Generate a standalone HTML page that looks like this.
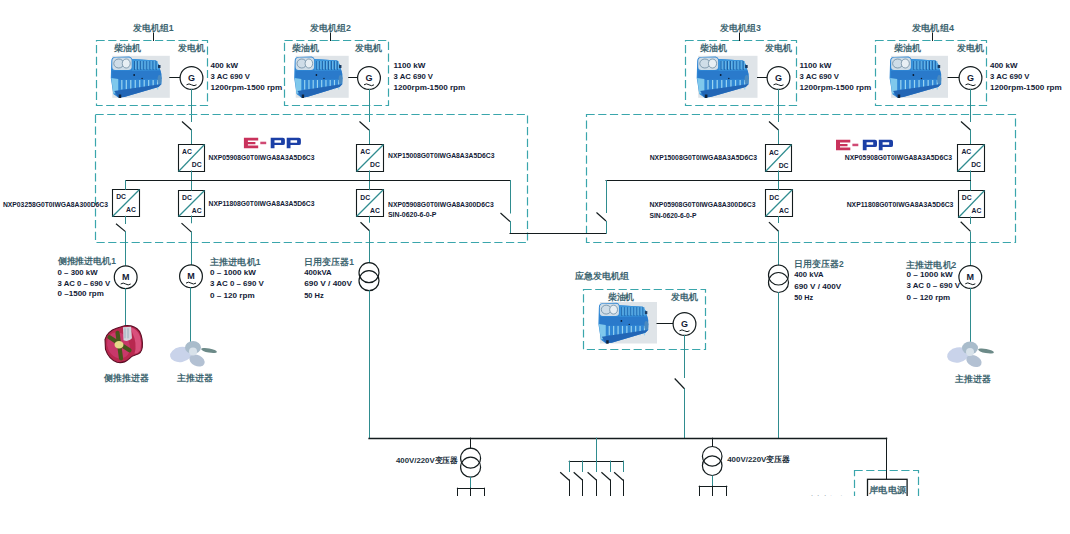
<!DOCTYPE html><html><head><meta charset="utf-8"><style>html,body{margin:0;padding:0;background:#fff;width:1070px;height:534px;overflow:hidden}svg{display:block}</style></head><body>
<svg width="1070" height="534" viewBox="0 0 1070 534">
<rect width="1070" height="534" fill="#fff"/>
<defs><clipPath id="cl"><rect x="0" y="0" width="1070" height="496"/></clipPath></defs>
<g clip-path="url(#cl)">
<rect x="96.5" y="40.5" width="111.0" height="65.0" fill="none" stroke="#3aa6ac" stroke-width="1.2" stroke-dasharray="8.2 3.5"/>
<line x1="153.5" y1="33" x2="153.5" y2="40.5" stroke="#141c1e" stroke-width="1.0" stroke-linecap="square"/>
<text x="133" y="27.8" font-size="8.8" fill="#3d6570" font-weight="600" text-anchor="start" font-family="Liberation Sans, sans-serif" dominant-baseline="central" textLength="40.5" lengthAdjust="spacingAndGlyphs">发电机组1</text>
<text x="114" y="48" font-size="9" fill="#3d6570" font-weight="600" text-anchor="start" font-family="Liberation Sans, sans-serif" dominant-baseline="central" textLength="27" lengthAdjust="spacingAndGlyphs">柴油机</text>
<text x="178" y="48" font-size="9" fill="#3d6570" font-weight="600" text-anchor="start" font-family="Liberation Sans, sans-serif" dominant-baseline="central" textLength="27" lengthAdjust="spacingAndGlyphs">发电机</text>
<rect x="112.3" y="55.8" width="57.500000000000014" height="42" fill="#dfe4e8"/>
<g transform="translate(112.29117647058823,56) scale(0.9941176470588236,1.0)">
<path d="M-1 5 Q-1 1 3 1 L17 0.5 Q19.5 1 20 3 L44 4.5 L47 9 L48 13 L49.5 18 L49.5 28 L46.5 31 L12 41 L6 41.5 L1 38 L-1.5 22 Z" fill="#2f86d4"/>
<path d="M20 3 L44 4.5 L47 9 L47.5 14.5 L20 15 Z" fill="#3a95dc"/>
<rect x="22.0" y="5" width="0.9" height="9" fill="#1d5c9e"/>
<rect x="23.0" y="5" width="1" height="8" fill="#6cb8e8"/>
<rect x="25.1" y="5" width="0.9" height="9" fill="#1d5c9e"/>
<rect x="26.1" y="5" width="1" height="8" fill="#6cb8e8"/>
<rect x="28.2" y="5" width="0.9" height="9" fill="#1d5c9e"/>
<rect x="29.2" y="5" width="1" height="8" fill="#6cb8e8"/>
<rect x="31.3" y="5" width="0.9" height="9" fill="#1d5c9e"/>
<rect x="32.3" y="5" width="1" height="8" fill="#6cb8e8"/>
<rect x="34.4" y="5" width="0.9" height="9" fill="#1d5c9e"/>
<rect x="35.4" y="5" width="1" height="8" fill="#6cb8e8"/>
<rect x="37.5" y="5" width="0.9" height="9" fill="#1d5c9e"/>
<rect x="38.5" y="5" width="1" height="8" fill="#6cb8e8"/>
<rect x="40.6" y="5" width="0.9" height="9" fill="#1d5c9e"/>
<rect x="41.6" y="5" width="1" height="8" fill="#6cb8e8"/>
<rect x="43.7" y="5" width="0.9" height="9" fill="#1d5c9e"/>
<rect x="44.7" y="5" width="1" height="8" fill="#6cb8e8"/>
<rect x="46" y="9" width="2.5" height="3" fill="#1a3a60"/>
<path d="M0 5 Q0 1.5 3.5 1.5 L16.5 1.5 Q19.5 1.5 19.5 5 L19.5 11 Q19.5 14 16 14 L3 14 Q0 14 0 11 Z" fill="#cfdde8"/>
<ellipse cx="6.5" cy="7.5" rx="5" ry="4.5" fill="none" stroke="#5f7f96" stroke-width="0.7"/>
<ellipse cx="14" cy="7.5" rx="4" ry="4.5" fill="#e8eff4" stroke="#5f7f96" stroke-width="0.7"/>
<path d="M0 15 L48.5 14.5 L49.5 23 L0 24 Z" fill="#2a7acb"/>
<circle cx="22" cy="19" r="0.9" fill="#0a1a30"/>
<circle cx="30" cy="22.5" r="0.7" fill="#0a1a30"/>
<rect x="9.0" y="24" width="1.2" height="9.5" fill="#9ad4f0"/>
<rect x="13.5" y="24" width="1.2" height="9.5" fill="#9ad4f0"/>
<rect x="18.0" y="24" width="1.2" height="9.5" fill="#9ad4f0"/>
<rect x="22.5" y="24" width="1.2" height="9.5" fill="#9ad4f0"/>
<rect x="27.0" y="24" width="1.2" height="9.5" fill="#9ad4f0"/>
<rect x="31.5" y="24" width="1.2" height="9.5" fill="#9ad4f0"/>
<rect x="36.0" y="24" width="1.2" height="9.5" fill="#9ad4f0"/>
<rect x="40.5" y="24" width="1.2" height="9.5" fill="#9ad4f0"/>
<rect x="45.0" y="24" width="1.2" height="9.5" fill="#9ad4f0"/>
<path d="M-1 22 L6 23 L6 36 L1 38 Z" fill="#7fc8ec"/>
<ellipse cx="47.5" cy="23.5" rx="2" ry="4.5" fill="#4a8ac0"/>
<path d="M2 35 L49.5 28 L46.5 31 L12 41 L6 41.5 Z" fill="#2266b6"/>
<rect x="6.5" y="38.5" width="2.5" height="3.5" fill="#10223a"/>
</g>
<line x1="169.8" y1="77.5" x2="180.1" y2="77.5" stroke="#141c1e" stroke-width="1.0" stroke-linecap="square"/>
<circle cx="191.5" cy="78" r="11.4" fill="#fff" stroke="#141c1e" stroke-width="1.2"/>
<text x="191.5" y="77.7" font-size="9" fill="#121a36" font-weight="bold" text-anchor="middle" font-family="Liberation Sans, sans-serif" dominant-baseline="central">G</text>
<path d="M186.5 84.8 q2.5 -1.8 5 0 t5 0" fill="none" stroke="#141c1e" stroke-width="1"/>
<text x="210.5" y="65" font-size="8" fill="#121a36" font-weight="bold" text-anchor="start" font-family="Liberation Sans, sans-serif" dominant-baseline="central" textLength="27.5" lengthAdjust="spacingAndGlyphs">400 kW</text>
<text x="210.5" y="76.3" font-size="8" fill="#121a36" font-weight="bold" text-anchor="start" font-family="Liberation Sans, sans-serif" dominant-baseline="central" textLength="39.5" lengthAdjust="spacingAndGlyphs">3 AC 690 V</text>
<text x="210.5" y="87.5" font-size="7.4" fill="#121a36" font-weight="bold" text-anchor="start" font-family="Liberation Sans, sans-serif" dominant-baseline="central" textLength="71.8" lengthAdjust="spacingAndGlyphs">1200rpm-1500 rpm</text>
<line x1="191.5" y1="89.5" x2="191.5" y2="121.5" stroke="#2f8c8f" stroke-width="1.0" stroke-linecap="square"/>
<line x1="182.0" y1="121.5" x2="191.5" y2="130.0" stroke="#141c1e" stroke-width="1.2"/>
<line x1="191.5" y1="130" x2="191.5" y2="144.5" stroke="#2f8c8f" stroke-width="1.0" stroke-linecap="square"/>
<rect x="284.5" y="40.5" width="104.0" height="65.0" fill="none" stroke="#3aa6ac" stroke-width="1.2" stroke-dasharray="8.2 3.5"/>
<line x1="330.5" y1="33" x2="330.5" y2="40.5" stroke="#141c1e" stroke-width="1.0" stroke-linecap="square"/>
<text x="310" y="27.8" font-size="8.8" fill="#3d6570" font-weight="600" text-anchor="start" font-family="Liberation Sans, sans-serif" dominant-baseline="central" textLength="41" lengthAdjust="spacingAndGlyphs">发电机组2</text>
<text x="291.6" y="48" font-size="9" fill="#3d6570" font-weight="600" text-anchor="start" font-family="Liberation Sans, sans-serif" dominant-baseline="central" textLength="27" lengthAdjust="spacingAndGlyphs">柴油机</text>
<text x="355" y="48" font-size="9" fill="#3d6570" font-weight="600" text-anchor="start" font-family="Liberation Sans, sans-serif" dominant-baseline="central" textLength="27" lengthAdjust="spacingAndGlyphs">发电机</text>
<rect x="295.7" y="55.8" width="53.0" height="42" fill="#dfe4e8"/>
<g transform="translate(295.61764705882354,56) scale(0.945098039215686,1.0)">
<path d="M-1 5 Q-1 1 3 1 L17 0.5 Q19.5 1 20 3 L44 4.5 L47 9 L48 13 L49.5 18 L49.5 28 L46.5 31 L12 41 L6 41.5 L1 38 L-1.5 22 Z" fill="#2f86d4"/>
<path d="M20 3 L44 4.5 L47 9 L47.5 14.5 L20 15 Z" fill="#3a95dc"/>
<rect x="22.0" y="5" width="0.9" height="9" fill="#1d5c9e"/>
<rect x="23.0" y="5" width="1" height="8" fill="#6cb8e8"/>
<rect x="25.1" y="5" width="0.9" height="9" fill="#1d5c9e"/>
<rect x="26.1" y="5" width="1" height="8" fill="#6cb8e8"/>
<rect x="28.2" y="5" width="0.9" height="9" fill="#1d5c9e"/>
<rect x="29.2" y="5" width="1" height="8" fill="#6cb8e8"/>
<rect x="31.3" y="5" width="0.9" height="9" fill="#1d5c9e"/>
<rect x="32.3" y="5" width="1" height="8" fill="#6cb8e8"/>
<rect x="34.4" y="5" width="0.9" height="9" fill="#1d5c9e"/>
<rect x="35.4" y="5" width="1" height="8" fill="#6cb8e8"/>
<rect x="37.5" y="5" width="0.9" height="9" fill="#1d5c9e"/>
<rect x="38.5" y="5" width="1" height="8" fill="#6cb8e8"/>
<rect x="40.6" y="5" width="0.9" height="9" fill="#1d5c9e"/>
<rect x="41.6" y="5" width="1" height="8" fill="#6cb8e8"/>
<rect x="43.7" y="5" width="0.9" height="9" fill="#1d5c9e"/>
<rect x="44.7" y="5" width="1" height="8" fill="#6cb8e8"/>
<rect x="46" y="9" width="2.5" height="3" fill="#1a3a60"/>
<path d="M0 5 Q0 1.5 3.5 1.5 L16.5 1.5 Q19.5 1.5 19.5 5 L19.5 11 Q19.5 14 16 14 L3 14 Q0 14 0 11 Z" fill="#cfdde8"/>
<ellipse cx="6.5" cy="7.5" rx="5" ry="4.5" fill="none" stroke="#5f7f96" stroke-width="0.7"/>
<ellipse cx="14" cy="7.5" rx="4" ry="4.5" fill="#e8eff4" stroke="#5f7f96" stroke-width="0.7"/>
<path d="M0 15 L48.5 14.5 L49.5 23 L0 24 Z" fill="#2a7acb"/>
<circle cx="22" cy="19" r="0.9" fill="#0a1a30"/>
<circle cx="30" cy="22.5" r="0.7" fill="#0a1a30"/>
<rect x="9.0" y="24" width="1.2" height="9.5" fill="#9ad4f0"/>
<rect x="13.5" y="24" width="1.2" height="9.5" fill="#9ad4f0"/>
<rect x="18.0" y="24" width="1.2" height="9.5" fill="#9ad4f0"/>
<rect x="22.5" y="24" width="1.2" height="9.5" fill="#9ad4f0"/>
<rect x="27.0" y="24" width="1.2" height="9.5" fill="#9ad4f0"/>
<rect x="31.5" y="24" width="1.2" height="9.5" fill="#9ad4f0"/>
<rect x="36.0" y="24" width="1.2" height="9.5" fill="#9ad4f0"/>
<rect x="40.5" y="24" width="1.2" height="9.5" fill="#9ad4f0"/>
<rect x="45.0" y="24" width="1.2" height="9.5" fill="#9ad4f0"/>
<path d="M-1 22 L6 23 L6 36 L1 38 Z" fill="#7fc8ec"/>
<ellipse cx="47.5" cy="23.5" rx="2" ry="4.5" fill="#4a8ac0"/>
<path d="M2 35 L49.5 28 L46.5 31 L12 41 L6 41.5 Z" fill="#2266b6"/>
<rect x="6.5" y="38.5" width="2.5" height="3.5" fill="#10223a"/>
</g>
<line x1="348.7" y1="77.5" x2="357.6" y2="77.5" stroke="#141c1e" stroke-width="1.0" stroke-linecap="square"/>
<circle cx="369" cy="78" r="11.4" fill="#fff" stroke="#141c1e" stroke-width="1.2"/>
<text x="369" y="77.7" font-size="9" fill="#121a36" font-weight="bold" text-anchor="middle" font-family="Liberation Sans, sans-serif" dominant-baseline="central">G</text>
<path d="M364 84.8 q2.5 -1.8 5 0 t5 0" fill="none" stroke="#141c1e" stroke-width="1"/>
<text x="393.5" y="65" font-size="8" fill="#121a36" font-weight="bold" text-anchor="start" font-family="Liberation Sans, sans-serif" dominant-baseline="central" textLength="32" lengthAdjust="spacingAndGlyphs">1100 kW</text>
<text x="393.5" y="76.3" font-size="8" fill="#121a36" font-weight="bold" text-anchor="start" font-family="Liberation Sans, sans-serif" dominant-baseline="central" textLength="39.5" lengthAdjust="spacingAndGlyphs">3 AC 690 V</text>
<text x="393.5" y="87.5" font-size="7.4" fill="#121a36" font-weight="bold" text-anchor="start" font-family="Liberation Sans, sans-serif" dominant-baseline="central" textLength="71.8" lengthAdjust="spacingAndGlyphs">1200rpm-1500 rpm</text>
<line x1="369.5" y1="89.5" x2="369.5" y2="121.5" stroke="#2f8c8f" stroke-width="1.0" stroke-linecap="square"/>
<line x1="359.5" y1="121.5" x2="369" y2="130.0" stroke="#141c1e" stroke-width="1.2"/>
<line x1="369.5" y1="130" x2="369.5" y2="144.5" stroke="#2f8c8f" stroke-width="1.0" stroke-linecap="square"/>
<rect x="685.5" y="40.5" width="111.0" height="65.0" fill="none" stroke="#3aa6ac" stroke-width="1.2" stroke-dasharray="8.2 3.5"/>
<line x1="739.5" y1="33" x2="739.5" y2="40.5" stroke="#141c1e" stroke-width="1.0" stroke-linecap="square"/>
<text x="720" y="27.8" font-size="8.8" fill="#3d6570" font-weight="600" text-anchor="start" font-family="Liberation Sans, sans-serif" dominant-baseline="central" textLength="41" lengthAdjust="spacingAndGlyphs">发电机组3</text>
<text x="700.4" y="48" font-size="9" fill="#3d6570" font-weight="600" text-anchor="start" font-family="Liberation Sans, sans-serif" dominant-baseline="central" textLength="27" lengthAdjust="spacingAndGlyphs">柴油机</text>
<text x="765.2" y="48" font-size="9" fill="#3d6570" font-weight="600" text-anchor="start" font-family="Liberation Sans, sans-serif" dominant-baseline="central" textLength="27" lengthAdjust="spacingAndGlyphs">发电机</text>
<rect x="698.2" y="55.8" width="59.299999999999955" height="42" fill="#dfe4e8"/>
<g transform="translate(698.2294117647059,56) scale(1.0196078431372548,1.0)">
<path d="M-1 5 Q-1 1 3 1 L17 0.5 Q19.5 1 20 3 L44 4.5 L47 9 L48 13 L49.5 18 L49.5 28 L46.5 31 L12 41 L6 41.5 L1 38 L-1.5 22 Z" fill="#2f86d4"/>
<path d="M20 3 L44 4.5 L47 9 L47.5 14.5 L20 15 Z" fill="#3a95dc"/>
<rect x="22.0" y="5" width="0.9" height="9" fill="#1d5c9e"/>
<rect x="23.0" y="5" width="1" height="8" fill="#6cb8e8"/>
<rect x="25.1" y="5" width="0.9" height="9" fill="#1d5c9e"/>
<rect x="26.1" y="5" width="1" height="8" fill="#6cb8e8"/>
<rect x="28.2" y="5" width="0.9" height="9" fill="#1d5c9e"/>
<rect x="29.2" y="5" width="1" height="8" fill="#6cb8e8"/>
<rect x="31.3" y="5" width="0.9" height="9" fill="#1d5c9e"/>
<rect x="32.3" y="5" width="1" height="8" fill="#6cb8e8"/>
<rect x="34.4" y="5" width="0.9" height="9" fill="#1d5c9e"/>
<rect x="35.4" y="5" width="1" height="8" fill="#6cb8e8"/>
<rect x="37.5" y="5" width="0.9" height="9" fill="#1d5c9e"/>
<rect x="38.5" y="5" width="1" height="8" fill="#6cb8e8"/>
<rect x="40.6" y="5" width="0.9" height="9" fill="#1d5c9e"/>
<rect x="41.6" y="5" width="1" height="8" fill="#6cb8e8"/>
<rect x="43.7" y="5" width="0.9" height="9" fill="#1d5c9e"/>
<rect x="44.7" y="5" width="1" height="8" fill="#6cb8e8"/>
<rect x="46" y="9" width="2.5" height="3" fill="#1a3a60"/>
<path d="M0 5 Q0 1.5 3.5 1.5 L16.5 1.5 Q19.5 1.5 19.5 5 L19.5 11 Q19.5 14 16 14 L3 14 Q0 14 0 11 Z" fill="#cfdde8"/>
<ellipse cx="6.5" cy="7.5" rx="5" ry="4.5" fill="none" stroke="#5f7f96" stroke-width="0.7"/>
<ellipse cx="14" cy="7.5" rx="4" ry="4.5" fill="#e8eff4" stroke="#5f7f96" stroke-width="0.7"/>
<path d="M0 15 L48.5 14.5 L49.5 23 L0 24 Z" fill="#2a7acb"/>
<circle cx="22" cy="19" r="0.9" fill="#0a1a30"/>
<circle cx="30" cy="22.5" r="0.7" fill="#0a1a30"/>
<rect x="9.0" y="24" width="1.2" height="9.5" fill="#9ad4f0"/>
<rect x="13.5" y="24" width="1.2" height="9.5" fill="#9ad4f0"/>
<rect x="18.0" y="24" width="1.2" height="9.5" fill="#9ad4f0"/>
<rect x="22.5" y="24" width="1.2" height="9.5" fill="#9ad4f0"/>
<rect x="27.0" y="24" width="1.2" height="9.5" fill="#9ad4f0"/>
<rect x="31.5" y="24" width="1.2" height="9.5" fill="#9ad4f0"/>
<rect x="36.0" y="24" width="1.2" height="9.5" fill="#9ad4f0"/>
<rect x="40.5" y="24" width="1.2" height="9.5" fill="#9ad4f0"/>
<rect x="45.0" y="24" width="1.2" height="9.5" fill="#9ad4f0"/>
<path d="M-1 22 L6 23 L6 36 L1 38 Z" fill="#7fc8ec"/>
<ellipse cx="47.5" cy="23.5" rx="2" ry="4.5" fill="#4a8ac0"/>
<path d="M2 35 L49.5 28 L46.5 31 L12 41 L6 41.5 Z" fill="#2266b6"/>
<rect x="6.5" y="38.5" width="2.5" height="3.5" fill="#10223a"/>
</g>
<line x1="757.5" y1="77.5" x2="767.1" y2="77.5" stroke="#141c1e" stroke-width="1.0" stroke-linecap="square"/>
<circle cx="778.5" cy="78" r="11.4" fill="#fff" stroke="#141c1e" stroke-width="1.2"/>
<text x="778.5" y="77.7" font-size="9" fill="#121a36" font-weight="bold" text-anchor="middle" font-family="Liberation Sans, sans-serif" dominant-baseline="central">G</text>
<path d="M773.5 84.8 q2.5 -1.8 5 0 t5 0" fill="none" stroke="#141c1e" stroke-width="1"/>
<text x="799.5" y="65" font-size="8" fill="#121a36" font-weight="bold" text-anchor="start" font-family="Liberation Sans, sans-serif" dominant-baseline="central" textLength="32" lengthAdjust="spacingAndGlyphs">1100 kW</text>
<text x="799.5" y="76.3" font-size="8" fill="#121a36" font-weight="bold" text-anchor="start" font-family="Liberation Sans, sans-serif" dominant-baseline="central" textLength="39.5" lengthAdjust="spacingAndGlyphs">3 AC 690 V</text>
<text x="799.5" y="87.5" font-size="7.4" fill="#121a36" font-weight="bold" text-anchor="start" font-family="Liberation Sans, sans-serif" dominant-baseline="central" textLength="71.8" lengthAdjust="spacingAndGlyphs">1200rpm-1500 rpm</text>
<line x1="778.5" y1="89.5" x2="778.5" y2="121.5" stroke="#2f8c8f" stroke-width="1.0" stroke-linecap="square"/>
<line x1="769.0" y1="121.5" x2="778.5" y2="130.0" stroke="#141c1e" stroke-width="1.2"/>
<line x1="778.5" y1="130" x2="778.5" y2="144.5" stroke="#2f8c8f" stroke-width="1.0" stroke-linecap="square"/>
<rect x="875.5" y="40.5" width="111.0" height="65.0" fill="none" stroke="#3aa6ac" stroke-width="1.2" stroke-dasharray="8.2 3.5"/>
<line x1="932.5" y1="33" x2="932.5" y2="40.5" stroke="#141c1e" stroke-width="1.0" stroke-linecap="square"/>
<text x="912" y="27.8" font-size="8.8" fill="#3d6570" font-weight="600" text-anchor="start" font-family="Liberation Sans, sans-serif" dominant-baseline="central" textLength="42" lengthAdjust="spacingAndGlyphs">发电机组4</text>
<text x="893.8" y="48" font-size="9" fill="#3d6570" font-weight="600" text-anchor="start" font-family="Liberation Sans, sans-serif" dominant-baseline="central" textLength="27" lengthAdjust="spacingAndGlyphs">柴油机</text>
<text x="957" y="48" font-size="9" fill="#3d6570" font-weight="600" text-anchor="start" font-family="Liberation Sans, sans-serif" dominant-baseline="central" textLength="27" lengthAdjust="spacingAndGlyphs">发电机</text>
<rect x="891.1" y="55.8" width="56.89999999999998" height="42" fill="#dfe4e8"/>
<g transform="translate(891.1176470588235,56) scale(1.0117647058823533,1.0)">
<path d="M-1 5 Q-1 1 3 1 L17 0.5 Q19.5 1 20 3 L44 4.5 L47 9 L48 13 L49.5 18 L49.5 28 L46.5 31 L12 41 L6 41.5 L1 38 L-1.5 22 Z" fill="#2f86d4"/>
<path d="M20 3 L44 4.5 L47 9 L47.5 14.5 L20 15 Z" fill="#3a95dc"/>
<rect x="22.0" y="5" width="0.9" height="9" fill="#1d5c9e"/>
<rect x="23.0" y="5" width="1" height="8" fill="#6cb8e8"/>
<rect x="25.1" y="5" width="0.9" height="9" fill="#1d5c9e"/>
<rect x="26.1" y="5" width="1" height="8" fill="#6cb8e8"/>
<rect x="28.2" y="5" width="0.9" height="9" fill="#1d5c9e"/>
<rect x="29.2" y="5" width="1" height="8" fill="#6cb8e8"/>
<rect x="31.3" y="5" width="0.9" height="9" fill="#1d5c9e"/>
<rect x="32.3" y="5" width="1" height="8" fill="#6cb8e8"/>
<rect x="34.4" y="5" width="0.9" height="9" fill="#1d5c9e"/>
<rect x="35.4" y="5" width="1" height="8" fill="#6cb8e8"/>
<rect x="37.5" y="5" width="0.9" height="9" fill="#1d5c9e"/>
<rect x="38.5" y="5" width="1" height="8" fill="#6cb8e8"/>
<rect x="40.6" y="5" width="0.9" height="9" fill="#1d5c9e"/>
<rect x="41.6" y="5" width="1" height="8" fill="#6cb8e8"/>
<rect x="43.7" y="5" width="0.9" height="9" fill="#1d5c9e"/>
<rect x="44.7" y="5" width="1" height="8" fill="#6cb8e8"/>
<rect x="46" y="9" width="2.5" height="3" fill="#1a3a60"/>
<path d="M0 5 Q0 1.5 3.5 1.5 L16.5 1.5 Q19.5 1.5 19.5 5 L19.5 11 Q19.5 14 16 14 L3 14 Q0 14 0 11 Z" fill="#cfdde8"/>
<ellipse cx="6.5" cy="7.5" rx="5" ry="4.5" fill="none" stroke="#5f7f96" stroke-width="0.7"/>
<ellipse cx="14" cy="7.5" rx="4" ry="4.5" fill="#e8eff4" stroke="#5f7f96" stroke-width="0.7"/>
<path d="M0 15 L48.5 14.5 L49.5 23 L0 24 Z" fill="#2a7acb"/>
<circle cx="22" cy="19" r="0.9" fill="#0a1a30"/>
<circle cx="30" cy="22.5" r="0.7" fill="#0a1a30"/>
<rect x="9.0" y="24" width="1.2" height="9.5" fill="#9ad4f0"/>
<rect x="13.5" y="24" width="1.2" height="9.5" fill="#9ad4f0"/>
<rect x="18.0" y="24" width="1.2" height="9.5" fill="#9ad4f0"/>
<rect x="22.5" y="24" width="1.2" height="9.5" fill="#9ad4f0"/>
<rect x="27.0" y="24" width="1.2" height="9.5" fill="#9ad4f0"/>
<rect x="31.5" y="24" width="1.2" height="9.5" fill="#9ad4f0"/>
<rect x="36.0" y="24" width="1.2" height="9.5" fill="#9ad4f0"/>
<rect x="40.5" y="24" width="1.2" height="9.5" fill="#9ad4f0"/>
<rect x="45.0" y="24" width="1.2" height="9.5" fill="#9ad4f0"/>
<path d="M-1 22 L6 23 L6 36 L1 38 Z" fill="#7fc8ec"/>
<ellipse cx="47.5" cy="23.5" rx="2" ry="4.5" fill="#4a8ac0"/>
<path d="M2 35 L49.5 28 L46.5 31 L12 41 L6 41.5 Z" fill="#2266b6"/>
<rect x="6.5" y="38.5" width="2.5" height="3.5" fill="#10223a"/>
</g>
<line x1="948" y1="77.5" x2="959.1" y2="77.5" stroke="#141c1e" stroke-width="1.0" stroke-linecap="square"/>
<circle cx="970.5" cy="78" r="11.4" fill="#fff" stroke="#141c1e" stroke-width="1.2"/>
<text x="970.5" y="77.7" font-size="9" fill="#121a36" font-weight="bold" text-anchor="middle" font-family="Liberation Sans, sans-serif" dominant-baseline="central">G</text>
<path d="M965.5 84.8 q2.5 -1.8 5 0 t5 0" fill="none" stroke="#141c1e" stroke-width="1"/>
<text x="990" y="65" font-size="8" fill="#121a36" font-weight="bold" text-anchor="start" font-family="Liberation Sans, sans-serif" dominant-baseline="central" textLength="27.5" lengthAdjust="spacingAndGlyphs">400 kW</text>
<text x="990" y="76.3" font-size="8" fill="#121a36" font-weight="bold" text-anchor="start" font-family="Liberation Sans, sans-serif" dominant-baseline="central" textLength="39.5" lengthAdjust="spacingAndGlyphs">3 AC 690 V</text>
<text x="990" y="87.5" font-size="7.4" fill="#121a36" font-weight="bold" text-anchor="start" font-family="Liberation Sans, sans-serif" dominant-baseline="central" textLength="71.8" lengthAdjust="spacingAndGlyphs">1200rpm-1500 rpm</text>
<line x1="970.5" y1="89.5" x2="970.5" y2="121.5" stroke="#2f8c8f" stroke-width="1.0" stroke-linecap="square"/>
<line x1="961.0" y1="121.5" x2="970.5" y2="130.0" stroke="#141c1e" stroke-width="1.2"/>
<line x1="970.5" y1="130" x2="970.5" y2="144.5" stroke="#2f8c8f" stroke-width="1.0" stroke-linecap="square"/>
<rect x="95.5" y="114.5" width="432.0" height="128.0" fill="none" stroke="#3aa6ac" stroke-width="1.2" stroke-dasharray="8.2 3.5"/>
<rect x="586.5" y="114.5" width="429.0" height="128.0" fill="none" stroke="#3aa6ac" stroke-width="1.2" stroke-dasharray="8.2 3.5"/>
<g transform="translate(243.9,137.8) scale(1.0)">
<path d="M0 0 H14.3 V2.7 H4 V4.1 H11.5 V6.4 H4 V7.8 H14.3 V10.5 H0 Z" fill="#c9325c"/>
<rect x="16.4" y="3.9" width="5.9" height="2.5" fill="#d04a74"/>
<path d="M26.8 0 H39 Q41 0 41 2 V5.4 Q41 7.3 39 7.3 H30.6 V10.5 H26.8 Z M30.6 2.5 V4.9 H37.2 V2.5 Z" fill="#1b3fa6" fill-rule="evenodd"/>
<path d="M42.8 0 H55 Q57 0 57 2 V5.4 Q57 7.3 55 7.3 H46.6 V10.5 H42.8 Z M46.6 2.5 V4.9 H53.2 V2.5 Z" fill="#1b3fa6" fill-rule="evenodd"/>
</g>
<g transform="translate(836,139.8) scale(1.0)">
<path d="M0 0 H14.3 V2.7 H4 V4.1 H11.5 V6.4 H4 V7.8 H14.3 V10.5 H0 Z" fill="#c9325c"/>
<rect x="16.4" y="3.9" width="5.9" height="2.5" fill="#d04a74"/>
<path d="M26.8 0 H39 Q41 0 41 2 V5.4 Q41 7.3 39 7.3 H30.6 V10.5 H26.8 Z M30.6 2.5 V4.9 H37.2 V2.5 Z" fill="#1b3fa6" fill-rule="evenodd"/>
<path d="M42.8 0 H55 Q57 0 57 2 V5.4 Q57 7.3 55 7.3 H46.6 V10.5 H42.8 Z M46.6 2.5 V4.9 H53.2 V2.5 Z" fill="#1b3fa6" fill-rule="evenodd"/>
</g>
<path d="M178.5 144.5 H204.5 V171.5 H178.5 Z" fill="none" stroke="#141c1e" stroke-width="1.1"/>
<line x1="178.5" y1="171.5" x2="204.5" y2="144.5" stroke="#2f8c8f" stroke-width="1.2"/>
<text x="186.9" y="151.70000000000002" font-size="7.6" fill="#121a36" font-weight="bold" text-anchor="middle" font-family="Liberation Sans, sans-serif" dominant-baseline="central" textLength="9.8" lengthAdjust="spacingAndGlyphs">AC</text>
<text x="196.70000000000002" y="164.70000000000002" font-size="7.6" fill="#121a36" font-weight="bold" text-anchor="middle" font-family="Liberation Sans, sans-serif" dominant-baseline="central" textLength="9.8" lengthAdjust="spacingAndGlyphs">DC</text>
<path d="M356.5 144.5 H383.5 V171.5 H356.5 Z" fill="none" stroke="#141c1e" stroke-width="1.1"/>
<line x1="356.5" y1="171.5" x2="383.5" y2="144.5" stroke="#2f8c8f" stroke-width="1.2"/>
<text x="365.2" y="151.70000000000002" font-size="7.6" fill="#121a36" font-weight="bold" text-anchor="middle" font-family="Liberation Sans, sans-serif" dominant-baseline="central" textLength="9.8" lengthAdjust="spacingAndGlyphs">AC</text>
<text x="375.0" y="164.70000000000002" font-size="7.6" fill="#121a36" font-weight="bold" text-anchor="middle" font-family="Liberation Sans, sans-serif" dominant-baseline="central" textLength="9.8" lengthAdjust="spacingAndGlyphs">DC</text>
<path d="M765.5 144.5 H791.5 V171.5 H765.5 Z" fill="none" stroke="#141c1e" stroke-width="1.1"/>
<line x1="765.5" y1="171.5" x2="791.5" y2="144.5" stroke="#2f8c8f" stroke-width="1.2"/>
<text x="773.8" y="152.0" font-size="7.6" fill="#121a36" font-weight="bold" text-anchor="middle" font-family="Liberation Sans, sans-serif" dominant-baseline="central" textLength="9.8" lengthAdjust="spacingAndGlyphs">AC</text>
<text x="783.5999999999999" y="165.0" font-size="7.6" fill="#121a36" font-weight="bold" text-anchor="middle" font-family="Liberation Sans, sans-serif" dominant-baseline="central" textLength="9.8" lengthAdjust="spacingAndGlyphs">DC</text>
<path d="M957.5 144.5 H984.5 V171.5 H957.5 Z" fill="none" stroke="#141c1e" stroke-width="1.1"/>
<line x1="957.5" y1="171.5" x2="984.5" y2="144.5" stroke="#2f8c8f" stroke-width="1.2"/>
<text x="966.3" y="151.8" font-size="7.6" fill="#121a36" font-weight="bold" text-anchor="middle" font-family="Liberation Sans, sans-serif" dominant-baseline="central" textLength="9.8" lengthAdjust="spacingAndGlyphs">AC</text>
<text x="976.0999999999999" y="164.8" font-size="7.6" fill="#121a36" font-weight="bold" text-anchor="middle" font-family="Liberation Sans, sans-serif" dominant-baseline="central" textLength="9.8" lengthAdjust="spacingAndGlyphs">DC</text>
<path d="M112.5 189.5 H139.5 V216.5 H112.5 Z" fill="none" stroke="#141c1e" stroke-width="1.1"/>
<line x1="112.5" y1="216.5" x2="139.5" y2="189.5" stroke="#2f8c8f" stroke-width="1.2"/>
<text x="121.1" y="196.8" font-size="7.6" fill="#121a36" font-weight="bold" text-anchor="middle" font-family="Liberation Sans, sans-serif" dominant-baseline="central" textLength="9.8" lengthAdjust="spacingAndGlyphs">DC</text>
<text x="130.9" y="209.8" font-size="7.6" fill="#121a36" font-weight="bold" text-anchor="middle" font-family="Liberation Sans, sans-serif" dominant-baseline="central" textLength="9.8" lengthAdjust="spacingAndGlyphs">AC</text>
<path d="M178.5 190.5 H204.5 V216.5 H178.5 Z" fill="none" stroke="#141c1e" stroke-width="1.1"/>
<line x1="178.5" y1="216.5" x2="204.5" y2="190.5" stroke="#2f8c8f" stroke-width="1.2"/>
<text x="186.9" y="197.4" font-size="7.6" fill="#121a36" font-weight="bold" text-anchor="middle" font-family="Liberation Sans, sans-serif" dominant-baseline="central" textLength="9.8" lengthAdjust="spacingAndGlyphs">DC</text>
<text x="196.70000000000002" y="210.4" font-size="7.6" fill="#121a36" font-weight="bold" text-anchor="middle" font-family="Liberation Sans, sans-serif" dominant-baseline="central" textLength="9.8" lengthAdjust="spacingAndGlyphs">AC</text>
<path d="M356.5 189.5 H383.5 V216.5 H356.5 Z" fill="none" stroke="#141c1e" stroke-width="1.1"/>
<line x1="356.5" y1="216.5" x2="383.5" y2="189.5" stroke="#2f8c8f" stroke-width="1.2"/>
<text x="365.2" y="197.1" font-size="7.6" fill="#121a36" font-weight="bold" text-anchor="middle" font-family="Liberation Sans, sans-serif" dominant-baseline="central" textLength="9.8" lengthAdjust="spacingAndGlyphs">DC</text>
<text x="375.0" y="210.1" font-size="7.6" fill="#121a36" font-weight="bold" text-anchor="middle" font-family="Liberation Sans, sans-serif" dominant-baseline="central" textLength="9.8" lengthAdjust="spacingAndGlyphs">AC</text>
<path d="M765.5 189.5 H792.5 V216.5 H765.5 Z" fill="none" stroke="#141c1e" stroke-width="1.1"/>
<line x1="765.5" y1="216.5" x2="792.5" y2="189.5" stroke="#2f8c8f" stroke-width="1.2"/>
<text x="774.2" y="197.20000000000002" font-size="7.6" fill="#121a36" font-weight="bold" text-anchor="middle" font-family="Liberation Sans, sans-serif" dominant-baseline="central" textLength="9.8" lengthAdjust="spacingAndGlyphs">DC</text>
<text x="784.0" y="210.20000000000002" font-size="7.6" fill="#121a36" font-weight="bold" text-anchor="middle" font-family="Liberation Sans, sans-serif" dominant-baseline="central" textLength="9.8" lengthAdjust="spacingAndGlyphs">AC</text>
<path d="M958.5 190.5 H984.5 V217.5 H958.5 Z" fill="none" stroke="#141c1e" stroke-width="1.1"/>
<line x1="958.5" y1="217.5" x2="984.5" y2="190.5" stroke="#2f8c8f" stroke-width="1.2"/>
<text x="966.7" y="197.6" font-size="7.6" fill="#121a36" font-weight="bold" text-anchor="middle" font-family="Liberation Sans, sans-serif" dominant-baseline="central" textLength="9.8" lengthAdjust="spacingAndGlyphs">DC</text>
<text x="976.5" y="210.6" font-size="7.6" fill="#121a36" font-weight="bold" text-anchor="middle" font-family="Liberation Sans, sans-serif" dominant-baseline="central" textLength="9.8" lengthAdjust="spacingAndGlyphs">AC</text>
<line x1="191.5" y1="171" x2="191.5" y2="190" stroke="#2f8c8f" stroke-width="1.0" stroke-linecap="square"/>
<line x1="369.5" y1="171" x2="369.5" y2="189.7" stroke="#2f8c8f" stroke-width="1.0" stroke-linecap="square"/>
<line x1="778.5" y1="171" x2="778.5" y2="189.8" stroke="#2f8c8f" stroke-width="1.0" stroke-linecap="square"/>
<line x1="970.5" y1="171" x2="970.5" y2="190.2" stroke="#2f8c8f" stroke-width="1.0" stroke-linecap="square"/>
<line x1="125.5" y1="180.5" x2="510" y2="180.5" stroke="#141c1e" stroke-width="1.0" stroke-linecap="square"/>
<line x1="606" y1="180.5" x2="970.5" y2="180.5" stroke="#141c1e" stroke-width="1.0" stroke-linecap="square"/>
<line x1="125.5" y1="180.5" x2="125.5" y2="189.3" stroke="#2f8c8f" stroke-width="1.0" stroke-linecap="square"/>
<line x1="510.5" y1="180.5" x2="510.5" y2="213" stroke="#2f8c8f" stroke-width="1.0" stroke-linecap="square"/>
<line x1="500.5" y1="213" x2="510" y2="221.5" stroke="#141c1e" stroke-width="1.2"/>
<line x1="510.5" y1="221.5" x2="510.5" y2="233" stroke="#2f8c8f" stroke-width="1.0" stroke-linecap="square"/>
<line x1="510" y1="233.5" x2="606" y2="233.5" stroke="#141c1e" stroke-width="1.0" stroke-linecap="square"/>
<line x1="606.5" y1="180.5" x2="606.5" y2="212.5" stroke="#2f8c8f" stroke-width="1.0" stroke-linecap="square"/>
<line x1="596.5" y1="212.5" x2="606" y2="221.0" stroke="#141c1e" stroke-width="1.2"/>
<line x1="606.5" y1="221.5" x2="606.5" y2="233" stroke="#2f8c8f" stroke-width="1.0" stroke-linecap="square"/>
<text x="208.5" y="157.2" font-size="6.8" fill="#121a36" font-weight="bold" text-anchor="start" font-family="Liberation Sans, sans-serif" dominant-baseline="central" textLength="106" lengthAdjust="spacingAndGlyphs">NXP05908G0T0IWGA8A3A5D6C3</text>
<text x="388" y="155.4" font-size="6.8" fill="#121a36" font-weight="bold" text-anchor="start" font-family="Liberation Sans, sans-serif" dominant-baseline="central" textLength="106.5" lengthAdjust="spacingAndGlyphs">NXP15008G0T0IWGA8A3A5D6C3</text>
<text x="3" y="204.5" font-size="6.8" fill="#121a36" font-weight="bold" text-anchor="start" font-family="Liberation Sans, sans-serif" dominant-baseline="central" textLength="105" lengthAdjust="spacingAndGlyphs">NXP03258G0T0IWGA8A300D6C3</text>
<text x="208.5" y="203.5" font-size="6.8" fill="#121a36" font-weight="bold" text-anchor="start" font-family="Liberation Sans, sans-serif" dominant-baseline="central" textLength="106" lengthAdjust="spacingAndGlyphs">NXP11808G0T0IWGA8A3A5D6C3</text>
<text x="388" y="204.4" font-size="6.8" fill="#121a36" font-weight="bold" text-anchor="start" font-family="Liberation Sans, sans-serif" dominant-baseline="central" textLength="105.7" lengthAdjust="spacingAndGlyphs">NXP05908G0T0IWGA8A300D6C3</text>
<text x="388" y="214.2" font-size="6.8" fill="#121a36" font-weight="bold" text-anchor="start" font-family="Liberation Sans, sans-serif" dominant-baseline="central" textLength="48.5" lengthAdjust="spacingAndGlyphs">SIN-0620-6-0-P</text>
<text x="649.7" y="157" font-size="6.8" fill="#121a36" font-weight="bold" text-anchor="start" font-family="Liberation Sans, sans-serif" dominant-baseline="central" textLength="107.3" lengthAdjust="spacingAndGlyphs">NXP15008G0T0IWGA8A3A5D6C3</text>
<text x="649.4" y="204" font-size="6.8" fill="#121a36" font-weight="bold" text-anchor="start" font-family="Liberation Sans, sans-serif" dominant-baseline="central" textLength="106.2" lengthAdjust="spacingAndGlyphs">NXP05908G0T0IWGA8A300D6C3</text>
<text x="649.4" y="215.5" font-size="6.8" fill="#121a36" font-weight="bold" text-anchor="start" font-family="Liberation Sans, sans-serif" dominant-baseline="central" textLength="47.2" lengthAdjust="spacingAndGlyphs">SIN-0620-6-0-P</text>
<text x="844.8" y="157.5" font-size="6.8" fill="#121a36" font-weight="bold" text-anchor="start" font-family="Liberation Sans, sans-serif" dominant-baseline="central" textLength="107.2" lengthAdjust="spacingAndGlyphs">NXP05908G0T0IWGA8A3A5D6C3</text>
<text x="846.7" y="204.5" font-size="6.8" fill="#121a36" font-weight="bold" text-anchor="start" font-family="Liberation Sans, sans-serif" dominant-baseline="central" textLength="106.7" lengthAdjust="spacingAndGlyphs">NXP11808G0T0IWGA8A3A5D6C3</text>
<line x1="125.5" y1="216.3" x2="125.5" y2="223.5" stroke="#2f8c8f" stroke-width="1.0" stroke-linecap="square"/>
<line x1="116.0" y1="223.8" x2="125.5" y2="231.60000000000002" stroke="#141c1e" stroke-width="1.2"/>
<line x1="125.5" y1="231.6" x2="125.5" y2="265.7" stroke="#2f8c8f" stroke-width="1.0" stroke-linecap="square"/>
<circle cx="125.7" cy="277.2" r="11.4" fill="#fff" stroke="#141c1e" stroke-width="1.2"/>
<text x="125.7" y="276.9" font-size="9" fill="#121a36" font-weight="bold" text-anchor="middle" font-family="Liberation Sans, sans-serif" dominant-baseline="central">M</text>
<path d="M120.7 284.0 q2.5 -1.8 5 0 t5 0" fill="none" stroke="#141c1e" stroke-width="1"/>
<line x1="125.5" y1="288.7" x2="125.5" y2="327" stroke="#2f8c8f" stroke-width="1.0" stroke-linecap="square"/>
<g transform="translate(104.5,325.3)">
<path d="M0.5 14 Q3 6 12 3 L20 0.5 Q30 -0.5 35 6 Q38.5 13 37.8 22 Q37 28.5 31.5 29.5 Q27 30.5 24 34 Q19 38.5 12.5 37 Q4 33.5 1 24 Z" fill="#b8284f" stroke="#5c0c24" stroke-width="1.1"/>
<path d="M26 2 Q33 4 35.5 11 Q37.5 18 36 25 Q34 28 30 28.5 Q33 18 28 8 Z" fill="#d8507c"/>
<ellipse cx="14" cy="20" rx="11" ry="13.5" transform="rotate(-25 14 20)" fill="#c8386a"/>
<path d="M5 12 L25 25 M13 7.5 L16.5 33" stroke="#46561c" stroke-width="4.2" stroke-linecap="round"/>
<ellipse cx="14.5" cy="19.5" rx="4.5" ry="3.8" fill="#e6d98a"/>
<path d="M18.5 2 L26.5 1.5 L27.5 13 Q24 17 19 15 Z" fill="#d6e4ea" opacity="0.9"/>
<path d="M20.5 3 V13 M23.5 3 V13" stroke="#8aa6b2" stroke-width="0.8"/>
</g>
<text x="57.6" y="261" font-size="8.5" fill="#3d6570" font-weight="600" text-anchor="start" font-family="Liberation Sans, sans-serif" dominant-baseline="central" textLength="58.4" lengthAdjust="spacingAndGlyphs">侧推推进电机1</text>
<text x="57.6" y="272.2" font-size="8" fill="#121a36" font-weight="bold" text-anchor="start" font-family="Liberation Sans, sans-serif" dominant-baseline="central" textLength="40" lengthAdjust="spacingAndGlyphs">0 – 300 kW</text>
<text x="57.6" y="283" font-size="8" fill="#121a36" font-weight="bold" text-anchor="start" font-family="Liberation Sans, sans-serif" dominant-baseline="central" textLength="52.6" lengthAdjust="spacingAndGlyphs">3 AC 0 – 690 V</text>
<text x="57.6" y="293.8" font-size="8" fill="#121a36" font-weight="bold" text-anchor="start" font-family="Liberation Sans, sans-serif" dominant-baseline="central" textLength="46.3" lengthAdjust="spacingAndGlyphs">0 –1500 rpm</text>
<text x="104" y="378.2" font-size="8.5" fill="#3d6570" font-weight="600" text-anchor="start" font-family="Liberation Sans, sans-serif" dominant-baseline="central" textLength="44.5" lengthAdjust="spacingAndGlyphs">侧推推进器</text>
<line x1="191.5" y1="216" x2="191.5" y2="222.8" stroke="#2f8c8f" stroke-width="1.0" stroke-linecap="square"/>
<line x1="181.5" y1="223.1" x2="191.5" y2="232.1" stroke="#141c1e" stroke-width="1.2"/>
<line x1="191.5" y1="232" x2="191.5" y2="265" stroke="#2f8c8f" stroke-width="1.0" stroke-linecap="square"/>
<circle cx="191" cy="276.3" r="11.4" fill="#fff" stroke="#141c1e" stroke-width="1.2"/>
<text x="191" y="276.0" font-size="9" fill="#121a36" font-weight="bold" text-anchor="middle" font-family="Liberation Sans, sans-serif" dominant-baseline="central">M</text>
<path d="M186 283.1 q2.5 -1.8 5 0 t5 0" fill="none" stroke="#141c1e" stroke-width="1"/>
<line x1="190.5" y1="287.7" x2="190.5" y2="342" stroke="#2f8c8f" stroke-width="1.0" stroke-linecap="square"/>
<g transform="translate(194,350.5)">
<ellipse cx="-13" cy="4" rx="11" ry="7.5" fill="#c9d3ea" transform="rotate(-10 -13 4)"/>
<ellipse cx="-1" cy="-3" rx="8" ry="6.5" fill="#a9bccb"/>
<ellipse cx="3" cy="10" rx="8" ry="5.5" fill="#b3c1d3" transform="rotate(25 3 10)"/>
<ellipse cx="15" cy="0" rx="8" ry="2" fill="#6c8a88" transform="rotate(10 15 0)"/>
<ellipse cx="-1" cy="1" rx="4" ry="4" fill="#d8e2ea"/>
</g>
<text x="210" y="261.6" font-size="8.5" fill="#3d6570" font-weight="600" text-anchor="start" font-family="Liberation Sans, sans-serif" dominant-baseline="central" textLength="50.5" lengthAdjust="spacingAndGlyphs">主推进电机1</text>
<text x="210" y="272.8" font-size="8" fill="#121a36" font-weight="bold" text-anchor="start" font-family="Liberation Sans, sans-serif" dominant-baseline="central" textLength="45.9" lengthAdjust="spacingAndGlyphs">0 – 1000 kW</text>
<text x="210" y="283.9" font-size="8" fill="#121a36" font-weight="bold" text-anchor="start" font-family="Liberation Sans, sans-serif" dominant-baseline="central" textLength="53.8" lengthAdjust="spacingAndGlyphs">3 AC 0 – 690 V</text>
<text x="210" y="295" font-size="8" fill="#121a36" font-weight="bold" text-anchor="start" font-family="Liberation Sans, sans-serif" dominant-baseline="central" textLength="44.6" lengthAdjust="spacingAndGlyphs">0 – 120 rpm</text>
<text x="176.6" y="378.2" font-size="8.5" fill="#3d6570" font-weight="600" text-anchor="start" font-family="Liberation Sans, sans-serif" dominant-baseline="central" textLength="36" lengthAdjust="spacingAndGlyphs">主推进器</text>
<line x1="369.5" y1="216.3" x2="369.5" y2="222.2" stroke="#2f8c8f" stroke-width="1.0" stroke-linecap="square"/>
<line x1="360.5" y1="222.2" x2="369.5" y2="230.7" stroke="#141c1e" stroke-width="1.2"/>
<line x1="369.5" y1="230.7" x2="369.5" y2="262.7" stroke="#2f8c8f" stroke-width="1.0" stroke-linecap="square"/>
<circle cx="369" cy="272.7" r="10" fill="none" stroke="#141c1e" stroke-width="1.2"/>
<circle cx="369" cy="280.7" r="10" fill="none" stroke="#141c1e" stroke-width="1.2"/>
<line x1="369.5" y1="290.7" x2="369.5" y2="438.2" stroke="#2f8c8f" stroke-width="1.0" stroke-linecap="square"/>
<text x="304.2" y="261.8" font-size="8.5" fill="#3d6570" font-weight="600" text-anchor="start" font-family="Liberation Sans, sans-serif" dominant-baseline="central" textLength="49.8" lengthAdjust="spacingAndGlyphs">日用变压器1</text>
<text x="304.2" y="272.3" font-size="8" fill="#121a36" font-weight="bold" text-anchor="start" font-family="Liberation Sans, sans-serif" dominant-baseline="central" textLength="27.5" lengthAdjust="spacingAndGlyphs">400kVA</text>
<text x="304.2" y="283.8" font-size="8" fill="#121a36" font-weight="bold" text-anchor="start" font-family="Liberation Sans, sans-serif" dominant-baseline="central" textLength="47.8" lengthAdjust="spacingAndGlyphs">690 V / 400V</text>
<text x="304.2" y="295.2" font-size="8" fill="#121a36" font-weight="bold" text-anchor="start" font-family="Liberation Sans, sans-serif" dominant-baseline="central" textLength="19.6" lengthAdjust="spacingAndGlyphs">50 Hz</text>
<line x1="778.5" y1="216.5" x2="778.5" y2="222.5" stroke="#2f8c8f" stroke-width="1.0" stroke-linecap="square"/>
<line x1="768.9" y1="222.1" x2="778.5" y2="231.2" stroke="#141c1e" stroke-width="1.2"/>
<line x1="778.5" y1="231" x2="778.5" y2="265" stroke="#2f8c8f" stroke-width="1.0" stroke-linecap="square"/>
<circle cx="778.5" cy="275" r="10" fill="none" stroke="#141c1e" stroke-width="1.2"/>
<circle cx="778.5" cy="282.5" r="10" fill="none" stroke="#141c1e" stroke-width="1.2"/>
<line x1="778.5" y1="292.5" x2="778.5" y2="438.2" stroke="#2f8c8f" stroke-width="1.0" stroke-linecap="square"/>
<text x="794.3" y="263.9" font-size="8.5" fill="#3d6570" font-weight="600" text-anchor="start" font-family="Liberation Sans, sans-serif" dominant-baseline="central" textLength="49.3" lengthAdjust="spacingAndGlyphs">日用变压器2</text>
<text x="794.3" y="274.2" font-size="8" fill="#121a36" font-weight="bold" text-anchor="start" font-family="Liberation Sans, sans-serif" dominant-baseline="central" textLength="29.2" lengthAdjust="spacingAndGlyphs">400 kVA</text>
<text x="794.3" y="286.1" font-size="8" fill="#121a36" font-weight="bold" text-anchor="start" font-family="Liberation Sans, sans-serif" dominant-baseline="central" textLength="46.9" lengthAdjust="spacingAndGlyphs">690 V / 400V</text>
<text x="794.3" y="297.3" font-size="8" fill="#121a36" font-weight="bold" text-anchor="start" font-family="Liberation Sans, sans-serif" dominant-baseline="central" textLength="18.9" lengthAdjust="spacingAndGlyphs">50 Hz</text>
<line x1="970.5" y1="217" x2="970.5" y2="223.5" stroke="#2f8c8f" stroke-width="1.0" stroke-linecap="square"/>
<line x1="960.7" y1="221.8" x2="970.5" y2="231.4" stroke="#141c1e" stroke-width="1.2"/>
<line x1="970.5" y1="232" x2="970.5" y2="265.7" stroke="#2f8c8f" stroke-width="1.0" stroke-linecap="square"/>
<circle cx="970.3" cy="277" r="11.4" fill="#fff" stroke="#141c1e" stroke-width="1.2"/>
<text x="970.3" y="276.7" font-size="9" fill="#121a36" font-weight="bold" text-anchor="middle" font-family="Liberation Sans, sans-serif" dominant-baseline="central">M</text>
<path d="M965.3 283.8 q2.5 -1.8 5 0 t5 0" fill="none" stroke="#141c1e" stroke-width="1"/>
<line x1="970.5" y1="288.5" x2="970.5" y2="343" stroke="#2f8c8f" stroke-width="1.0" stroke-linecap="square"/>
<g transform="translate(971,351)">
<ellipse cx="-13" cy="4" rx="11" ry="7.5" fill="#c9d3ea" transform="rotate(-10 -13 4)"/>
<ellipse cx="-1" cy="-3" rx="8" ry="6.5" fill="#a9bccb"/>
<ellipse cx="3" cy="10" rx="8" ry="5.5" fill="#b3c1d3" transform="rotate(25 3 10)"/>
<ellipse cx="15" cy="0" rx="8" ry="2" fill="#6c8a88" transform="rotate(10 15 0)"/>
<ellipse cx="-1" cy="1" rx="4" ry="4" fill="#d8e2ea"/>
</g>
<text x="906.4" y="264.5" font-size="8.5" fill="#3d6570" font-weight="600" text-anchor="start" font-family="Liberation Sans, sans-serif" dominant-baseline="central" textLength="49.9" lengthAdjust="spacingAndGlyphs">主推进电机2</text>
<text x="906.4" y="274.8" font-size="8" fill="#121a36" font-weight="bold" text-anchor="start" font-family="Liberation Sans, sans-serif" dominant-baseline="central" textLength="46.3" lengthAdjust="spacingAndGlyphs">0 – 1000 kW</text>
<text x="906.4" y="285.8" font-size="8" fill="#121a36" font-weight="bold" text-anchor="start" font-family="Liberation Sans, sans-serif" dominant-baseline="central" textLength="53.6" lengthAdjust="spacingAndGlyphs">3 AC 0 – 690 V</text>
<text x="906.4" y="297.9" font-size="8" fill="#121a36" font-weight="bold" text-anchor="start" font-family="Liberation Sans, sans-serif" dominant-baseline="central" textLength="43.8" lengthAdjust="spacingAndGlyphs">0 – 120 rpm</text>
<text x="954.9" y="379" font-size="8.5" fill="#3d6570" font-weight="600" text-anchor="start" font-family="Liberation Sans, sans-serif" dominant-baseline="central" textLength="35.5" lengthAdjust="spacingAndGlyphs">主推进器</text>
<rect x="583.5" y="289.5" width="122.0" height="60.0" fill="none" stroke="#3aa6ac" stroke-width="1.2" stroke-dasharray="8.2 3.5"/>
<text x="574.6" y="276" font-size="9" fill="#3d6570" font-weight="600" text-anchor="start" font-family="Liberation Sans, sans-serif" dominant-baseline="central" textLength="54" lengthAdjust="spacingAndGlyphs">应急发电机组</text>
<text x="607.8" y="297.2" font-size="9" fill="#3d6570" font-weight="600" text-anchor="start" font-family="Liberation Sans, sans-serif" dominant-baseline="central" textLength="26.5" lengthAdjust="spacingAndGlyphs">柴油机</text>
<text x="670.5" y="297.2" font-size="9" fill="#3d6570" font-weight="600" text-anchor="start" font-family="Liberation Sans, sans-serif" dominant-baseline="central" textLength="27" lengthAdjust="spacingAndGlyphs">发电机</text>
<rect x="599.9" y="302.0" width="57.10000000000002" height="41.5" fill="#dfe4e8"/>
<g transform="translate(599.8676470588235,302.2) scale(0.9784313725490191,0.9880952380952381)">
<path d="M-1 5 Q-1 1 3 1 L17 0.5 Q19.5 1 20 3 L44 4.5 L47 9 L48 13 L49.5 18 L49.5 28 L46.5 31 L12 41 L6 41.5 L1 38 L-1.5 22 Z" fill="#2f86d4"/>
<path d="M20 3 L44 4.5 L47 9 L47.5 14.5 L20 15 Z" fill="#3a95dc"/>
<rect x="22.0" y="5" width="0.9" height="9" fill="#1d5c9e"/>
<rect x="23.0" y="5" width="1" height="8" fill="#6cb8e8"/>
<rect x="25.1" y="5" width="0.9" height="9" fill="#1d5c9e"/>
<rect x="26.1" y="5" width="1" height="8" fill="#6cb8e8"/>
<rect x="28.2" y="5" width="0.9" height="9" fill="#1d5c9e"/>
<rect x="29.2" y="5" width="1" height="8" fill="#6cb8e8"/>
<rect x="31.3" y="5" width="0.9" height="9" fill="#1d5c9e"/>
<rect x="32.3" y="5" width="1" height="8" fill="#6cb8e8"/>
<rect x="34.4" y="5" width="0.9" height="9" fill="#1d5c9e"/>
<rect x="35.4" y="5" width="1" height="8" fill="#6cb8e8"/>
<rect x="37.5" y="5" width="0.9" height="9" fill="#1d5c9e"/>
<rect x="38.5" y="5" width="1" height="8" fill="#6cb8e8"/>
<rect x="40.6" y="5" width="0.9" height="9" fill="#1d5c9e"/>
<rect x="41.6" y="5" width="1" height="8" fill="#6cb8e8"/>
<rect x="43.7" y="5" width="0.9" height="9" fill="#1d5c9e"/>
<rect x="44.7" y="5" width="1" height="8" fill="#6cb8e8"/>
<rect x="46" y="9" width="2.5" height="3" fill="#1a3a60"/>
<path d="M0 5 Q0 1.5 3.5 1.5 L16.5 1.5 Q19.5 1.5 19.5 5 L19.5 11 Q19.5 14 16 14 L3 14 Q0 14 0 11 Z" fill="#cfdde8"/>
<ellipse cx="6.5" cy="7.5" rx="5" ry="4.5" fill="none" stroke="#5f7f96" stroke-width="0.7"/>
<ellipse cx="14" cy="7.5" rx="4" ry="4.5" fill="#e8eff4" stroke="#5f7f96" stroke-width="0.7"/>
<path d="M0 15 L48.5 14.5 L49.5 23 L0 24 Z" fill="#2a7acb"/>
<circle cx="22" cy="19" r="0.9" fill="#0a1a30"/>
<circle cx="30" cy="22.5" r="0.7" fill="#0a1a30"/>
<rect x="9.0" y="24" width="1.2" height="9.5" fill="#9ad4f0"/>
<rect x="13.5" y="24" width="1.2" height="9.5" fill="#9ad4f0"/>
<rect x="18.0" y="24" width="1.2" height="9.5" fill="#9ad4f0"/>
<rect x="22.5" y="24" width="1.2" height="9.5" fill="#9ad4f0"/>
<rect x="27.0" y="24" width="1.2" height="9.5" fill="#9ad4f0"/>
<rect x="31.5" y="24" width="1.2" height="9.5" fill="#9ad4f0"/>
<rect x="36.0" y="24" width="1.2" height="9.5" fill="#9ad4f0"/>
<rect x="40.5" y="24" width="1.2" height="9.5" fill="#9ad4f0"/>
<rect x="45.0" y="24" width="1.2" height="9.5" fill="#9ad4f0"/>
<path d="M-1 22 L6 23 L6 36 L1 38 Z" fill="#7fc8ec"/>
<ellipse cx="47.5" cy="23.5" rx="2" ry="4.5" fill="#4a8ac0"/>
<path d="M2 35 L49.5 28 L46.5 31 L12 41 L6 41.5 Z" fill="#2266b6"/>
<rect x="6.5" y="38.5" width="2.5" height="3.5" fill="#10223a"/>
</g>
<line x1="657" y1="323.5" x2="673" y2="323.5" stroke="#141c1e" stroke-width="1.0" stroke-linecap="square"/>
<circle cx="684.5" cy="324" r="11.4" fill="#fff" stroke="#141c1e" stroke-width="1.2"/>
<text x="684.5" y="323.7" font-size="9" fill="#121a36" font-weight="bold" text-anchor="middle" font-family="Liberation Sans, sans-serif" dominant-baseline="central">G</text>
<path d="M679.5 330.8 q2.5 -1.8 5 0 t5 0" fill="none" stroke="#141c1e" stroke-width="1"/>
<line x1="684.5" y1="335.5" x2="684.5" y2="377.5" stroke="#2f8c8f" stroke-width="1.0" stroke-linecap="square"/>
<line x1="674.7" y1="378.5" x2="684.7" y2="389.0" stroke="#141c1e" stroke-width="1.2"/>
<line x1="684.5" y1="389" x2="684.5" y2="438.2" stroke="#2f8c8f" stroke-width="1.0" stroke-linecap="square"/>
<line x1="369" y1="438.5" x2="886.6" y2="438.5" stroke="#141c1e" stroke-width="1.3" stroke-linecap="square"/>
<line x1="886.5" y1="438.2" x2="886.5" y2="479.3" stroke="#141c1e" stroke-width="1.0" stroke-linecap="square"/>
<line x1="470.5" y1="438.2" x2="470.5" y2="448.2" stroke="#141c1e" stroke-width="1.0" stroke-linecap="square"/>
<circle cx="470.6" cy="458.2" r="10" fill="none" stroke="#141c1e" stroke-width="1.2"/>
<circle cx="470.6" cy="467.2" r="10" fill="none" stroke="#141c1e" stroke-width="1.2"/>
<line x1="470.5" y1="477.3" x2="470.5" y2="488.2" stroke="#2f8c8f" stroke-width="1.0" stroke-linecap="square"/>
<line x1="457.4" y1="488.5" x2="484.4" y2="488.5" stroke="#141c1e" stroke-width="1.0" stroke-linecap="square"/>
<line x1="457.5" y1="488.2" x2="457.5" y2="497" stroke="#141c1e" stroke-width="1.0" stroke-linecap="square"/>
<line x1="470.5" y1="488.2" x2="470.5" y2="497" stroke="#141c1e" stroke-width="1.0" stroke-linecap="square"/>
<line x1="484.5" y1="488.2" x2="484.5" y2="497" stroke="#141c1e" stroke-width="1.0" stroke-linecap="square"/>
<text x="396" y="460.2" font-size="8" fill="#22303c" font-weight="600" text-anchor="start" font-family="Liberation Sans, sans-serif" dominant-baseline="central" textLength="62" lengthAdjust="spacingAndGlyphs">400V/220V变压器</text>
<line x1="712.5" y1="438.2" x2="712.5" y2="446.5" stroke="#141c1e" stroke-width="1.0" stroke-linecap="square"/>
<circle cx="712.2" cy="456.3" r="9.8" fill="none" stroke="#141c1e" stroke-width="1.2"/>
<circle cx="712.2" cy="465.7" r="9.8" fill="none" stroke="#141c1e" stroke-width="1.2"/>
<line x1="712.5" y1="476" x2="712.5" y2="486.2" stroke="#2f8c8f" stroke-width="1.0" stroke-linecap="square"/>
<line x1="699.2" y1="486.5" x2="726.8" y2="486.5" stroke="#141c1e" stroke-width="1.0" stroke-linecap="square"/>
<line x1="699.5" y1="486.2" x2="699.5" y2="497" stroke="#141c1e" stroke-width="1.0" stroke-linecap="square"/>
<line x1="712.5" y1="486.2" x2="712.5" y2="497" stroke="#141c1e" stroke-width="1.0" stroke-linecap="square"/>
<line x1="726.5" y1="486.2" x2="726.5" y2="497" stroke="#141c1e" stroke-width="1.0" stroke-linecap="square"/>
<text x="727.2" y="459.2" font-size="8" fill="#22303c" font-weight="600" text-anchor="start" font-family="Liberation Sans, sans-serif" dominant-baseline="central" textLength="63" lengthAdjust="spacingAndGlyphs">400V/220V变压器</text>
<line x1="596.5" y1="438.2" x2="596.5" y2="461.1" stroke="#2f8c8f" stroke-width="1.0" stroke-linecap="square"/>
<line x1="569.2" y1="461.5" x2="623.1" y2="461.5" stroke="#141c1e" stroke-width="1.0" stroke-linecap="square"/>
<line x1="569.5" y1="461.1" x2="569.5" y2="471.5" stroke="#2f8c8f" stroke-width="1.0" stroke-linecap="square"/>
<line x1="560.2" y1="472.2" x2="569.2" y2="480.2" stroke="#141c1e" stroke-width="1.2"/>
<line x1="569.5" y1="480" x2="569.5" y2="497" stroke="#141c1e" stroke-width="1.0" stroke-linecap="square"/>
<line x1="582.5" y1="461.1" x2="582.5" y2="471.5" stroke="#2f8c8f" stroke-width="1.0" stroke-linecap="square"/>
<line x1="573.7" y1="472.2" x2="582.7" y2="480.2" stroke="#141c1e" stroke-width="1.2"/>
<line x1="582.5" y1="480" x2="582.5" y2="497" stroke="#141c1e" stroke-width="1.0" stroke-linecap="square"/>
<line x1="596.5" y1="461.1" x2="596.5" y2="471.5" stroke="#2f8c8f" stroke-width="1.0" stroke-linecap="square"/>
<line x1="587.6" y1="472.2" x2="596.6" y2="480.2" stroke="#141c1e" stroke-width="1.2"/>
<line x1="596.5" y1="480" x2="596.5" y2="497" stroke="#141c1e" stroke-width="1.0" stroke-linecap="square"/>
<line x1="610.5" y1="461.1" x2="610.5" y2="471.5" stroke="#2f8c8f" stroke-width="1.0" stroke-linecap="square"/>
<line x1="601.4" y1="472.2" x2="610.4" y2="480.2" stroke="#141c1e" stroke-width="1.2"/>
<line x1="610.5" y1="480" x2="610.5" y2="497" stroke="#141c1e" stroke-width="1.0" stroke-linecap="square"/>
<line x1="623.5" y1="461.1" x2="623.5" y2="471.5" stroke="#2f8c8f" stroke-width="1.0" stroke-linecap="square"/>
<line x1="614.1" y1="472.2" x2="623.1" y2="480.2" stroke="#141c1e" stroke-width="1.2"/>
<line x1="623.5" y1="480" x2="623.5" y2="497" stroke="#141c1e" stroke-width="1.0" stroke-linecap="square"/>
<rect x="854.5" y="470.5" width="64.0" height="50.0" fill="none" stroke="#3aa6ac" stroke-width="1.2" stroke-dasharray="8.2 3.5"/>
<rect x="867.5" y="479.3" width="39.6" height="40" fill="#fff" stroke="#141c1e" stroke-width="1.3"/>
<text x="869" y="489.5" font-size="9" fill="#3d6570" font-weight="600" text-anchor="start" font-family="Liberation Sans, sans-serif" dominant-baseline="central" textLength="37" lengthAdjust="spacingAndGlyphs">岸电电源</text>
<text x="808" y="500" font-size="9" fill="#3d6570" font-weight="600" text-anchor="start" font-family="Liberation Sans, sans-serif" dominant-baseline="central" textLength="36" lengthAdjust="spacingAndGlyphs">岸电电源箱</text>
</g></svg></body></html>
